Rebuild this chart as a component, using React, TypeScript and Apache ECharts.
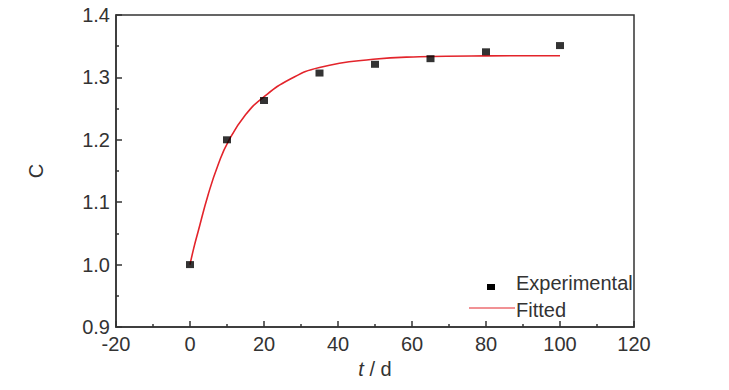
import React, { useEffect, useRef } from "react";
import * as echarts from "echarts";

const expT = [0, 10, 20, 35, 50, 65, 80, 100];
const expC = [1.0, 1.2, 1.263, 1.307, 1.321, 1.330, 1.341, 1.351];

const fitT = [0, 1, 2.2, 4.9, 7.6, 10.4, 15, 19.8, 27, 35, 49.5, 62, 80, 100];
const fitC = [1.0, 1.026, 1.053, 1.112, 1.16, 1.198, 1.24, 1.268, 1.297, 1.316, 1.329, 1.333, 1.3345, 1.3348];

const xTicks = { min: -20, max: 120, interval: 20 };
const yTicks = { min: 0.9, max: 1.4, interval: 0.1 };

const FONT = "'Liberation Sans', Arial, sans-serif";
const TXT = "#333";
const FS = 20;

export default function App() {
  const ref = useRef<HTMLDivElement>(null);
  useEffect(() => {
    document.body.style.margin = "0";
    const chart = echarts.init(ref.current!, null, { renderer: "svg" });
    chart.setOption({
      animation: false,
      backgroundColor: "#fff",
      grid: {
        left: 116,
        right: 95,
        top: 15,
        bottom: 63,
        show: true,
        borderColor: "#333",
        borderWidth: 1.5,
        backgroundColor: "transparent",
      },
      xAxis: {
        type: "value",
        min: xTicks.min,
        max: xTicks.max,
        interval: xTicks.interval,
        name: "{i|t} / d",
        nameLocation: "middle",
        nameGap: 32,
        nameTextStyle: {
          fontFamily: FONT,
          fontSize: FS,
          color: TXT,
          rich: { i: { fontStyle: "italic", fontFamily: FONT, fontSize: FS, color: TXT } },
        },
        axisLine: { onZero: false, lineStyle: { color: "#333", width: 1.5 } },
        axisTick: { inside: true, length: 6, lineStyle: { color: "#333", width: 1.5 } },
        minorTick: { show: true, splitNumber: 2, length: 3, lineStyle: { color: "#333", width: 1.5 } },
        axisLabel: { fontFamily: FONT, fontSize: FS, color: TXT, margin: 7 },
        splitLine: { show: false },
      },
      yAxis: {
        type: "value",
        min: yTicks.min,
        max: yTicks.max,
        interval: yTicks.interval,
        name: "C",
        nameLocation: "middle",
        nameGap: 70,
        nameTextStyle: { fontFamily: FONT, fontSize: FS, color: TXT },
        axisLine: { onZero: false, lineStyle: { color: "#333", width: 1.5 } },
        axisTick: { inside: true, length: 6, lineStyle: { color: "#333", width: 1.5 } },
        minorTick: { show: true, splitNumber: 2, length: 3, lineStyle: { color: "#333", width: 1.5 } },
        axisLabel: {
          fontFamily: FONT,
          fontSize: FS,
          color: TXT,
          margin: 6,
          formatter: (v: number) => v.toFixed(1),
        },
        splitLine: { show: false },
      },
      series: [
        {
          name: "Fitted",
          type: "line",
          data: fitT.map((t, i) => [t, fitC[i]]),
          smooth: 0.5,
          showSymbol: false,
          lineStyle: { color: "#e3242b", width: 1.6 },
          z: 2,
        },
        {
          name: "Experimental",
          type: "scatter",
          data: expT.map((t, i) => [t, expC[i]]),
          symbol: "rect",
          symbolSize: [8, 7],
          itemStyle: { color: "#000" },
          z: 3,
        },
      ],
      graphic: [
        { type: "rect", shape: { x: 487, y: 284, width: 8, height: 6 }, style: { fill: "#000" } },
        { type: "line", shape: { x1: 469, y1: 308, x2: 515, y2: 308 }, style: { stroke: "#e3242b", lineWidth: 1 } },
        {
          type: "text",
          x: 516,
          y: 283,
          style: { text: "Experimental", font: `${FS}px ${FONT}`, fill: TXT, textVerticalAlign: "middle" },
        },
        {
          type: "text",
          x: 516,
          y: 310,
          style: { text: "Fitted", font: `${FS}px ${FONT}`, fill: TXT, textVerticalAlign: "middle" },
        },
      ],
    });
    return () => chart.dispose();
  }, []);
  return <div ref={ref} style={{ width: 729, height: 390 }} />;
}
